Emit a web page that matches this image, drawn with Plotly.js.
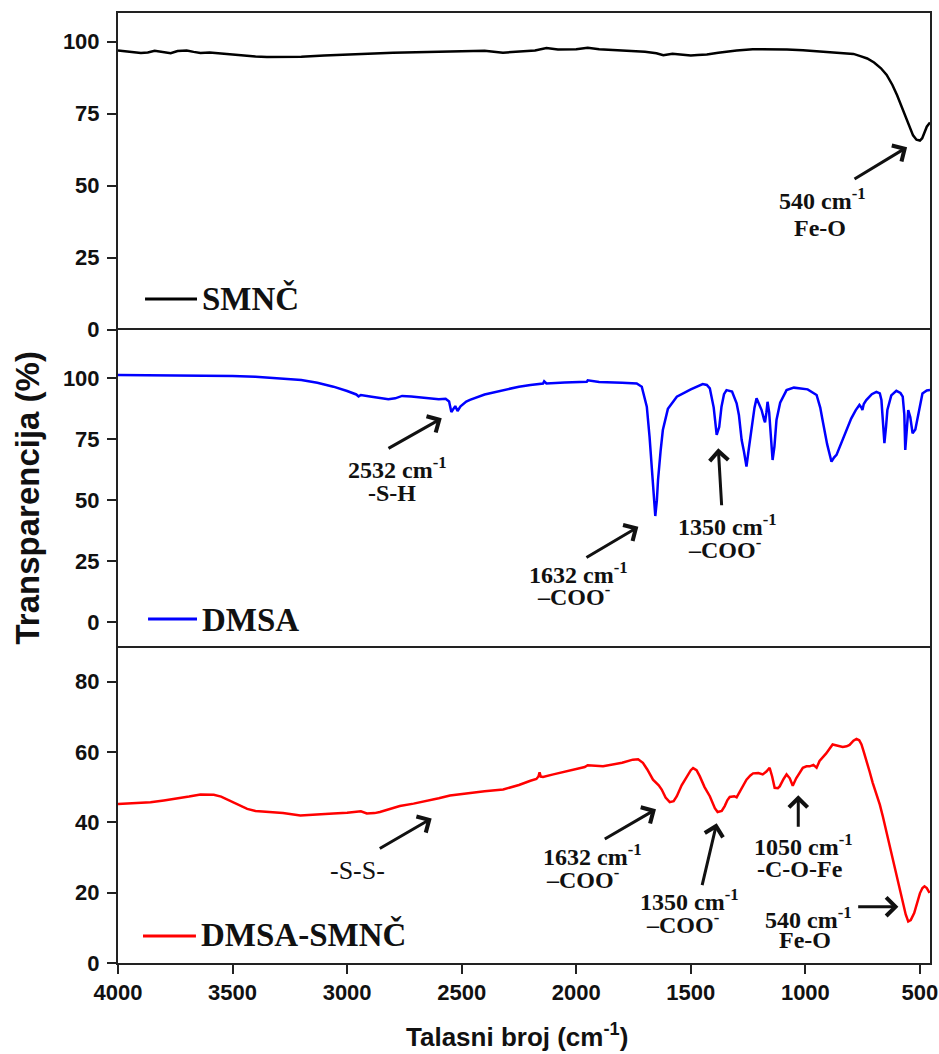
<!DOCTYPE html>
<html>
<head>
<meta charset="utf-8">
<script src="https://cdn.plot.ly/plotly-3.0.1.min.js"></script>
<style>html,body{margin:0;padding:0;background:#fff;}#chart{width:939px;height:1054px;}</style>
</head>
<body>
<div id="chart"></div>
<script>
// ---- Data (wavenumber cm^-1, transmittance %) ----
const seriesNames = ["SMNČ", "DMSA", "DMSA-SMNČ"];
const seriesColors = ["#000000", "#0000ff", "#ff0000"];

const wnSMNC = [4000,3960,3930,3900,3870,3840,3800,3770,3740,3700,3670,3640,3600,3560,3500,3450,3400,3350,3300,3200,3100,3000,2900,2800,2700,2600,2500,2400,2320,2250,2180,2130,2080,2000,1950,1900,1850,1800,1750,1700,1650,1620,1580,1540,1500,1470,1430,1380,1300,1230,1150,1080,1010,950,880,820,790,760,730,700,670,645,620,600,580,560,545,530,515,500,490,480,470,456];
const tSMNC = [97.0,96.8,96.4,96.1,96.3,96.9,96.4,96.0,96.8,97.0,96.5,96.1,96.3,96.0,95.6,95.1,94.9,94.7,94.7,94.8,95.2,95.6,95.9,96.2,96.4,96.5,96.8,96.9,96.2,96.6,97.0,97.8,97.3,97.4,97.9,97.4,97.2,97.0,96.8,96.5,96.0,95.3,95.8,95.6,95.2,95.4,95.6,96.2,97.0,97.4,97.4,97.3,97.1,96.8,96.4,96.1,95.8,95.0,94.2,92.8,90.8,88.5,85.0,81.5,77.5,73.0,70.0,67.5,66.0,65.7,66.5,68.5,70.5,72.0];

const wnDMSA = [4000,3800,3600,3500,3400,3300,3200,3130,3060,3000,2960,2950,2940,2900,2850,2820,2790,2760,2720,2680,2640,2600,2570,2555,2545,2535,2528,2518,2505,2480,2464,2400,2319,2250,2200,2145,2140,2130,2050,1954,1950,1900,1800,1736,1714,1700,1692,1680,1670,1660,1655,1648,1643,1632,1622,1600,1561,1500,1448,1430,1417,1400,1387,1376,1366,1355,1344,1320,1310,1300,1290,1278,1268,1257,1247,1235,1222,1213,1200,1191,1180,1176,1170,1165,1158,1150,1143,1135,1126,1110,1082,1050,1025,990,951,935,925,905,886,875,864,850,821,800,780,764,755,751,745,734,710,690,675,668,662,655,648,642,625,603,585,575,568,564,558,551,542,532,520,510,500,489,470,456];
const tDMSA = [101.4,101.3,101.2,101.0,100.7,100.0,99.3,98.2,96.6,94.8,93.4,92.6,93.2,92.6,91.8,91.4,91.8,92.8,92.6,92.1,91.6,91.4,91.6,90.5,86.2,87.6,88.6,86.6,88.5,90.5,91.2,93.4,95.2,96.6,97.3,97.9,98.8,97.9,98.3,98.6,99.2,98.5,98.2,97.9,96.6,92.0,88.4,76.0,62.4,48.0,43.5,50.0,58.3,70.0,78.8,87.5,92.5,95.5,97.7,97.3,95.9,88.0,76.8,80.0,88.4,93.5,95.2,94.6,92.5,89.8,85.0,74.7,70.0,63.8,71.0,80.2,88.0,91.8,89.0,87.0,83.0,82.0,86.0,90.4,86.0,75.0,66.5,72.0,82.9,90.0,95.2,96.2,95.9,95.5,93.2,88.0,82.9,73.0,65.8,67.5,68.6,72.0,78.8,83.5,87.0,89.1,88.0,87.0,89.5,91.1,93.5,94.5,93.8,91.1,83.0,73.4,80.0,87.0,93.0,94.9,94.0,92.5,85.0,70.6,78.0,87.0,84.0,77.5,79.0,84.3,89.5,93.8,95.0,95.2];

const wnMix = [4000,3930,3858,3800,3741,3690,3640,3582,3550,3523,3480,3436,3400,3348,3280,3204,3130,3060,3000,2972,2940,2914,2880,2857,2820,2770,2710,2653,2600,2551,2500,2464,2400,2319,2250,2200,2174,2165,2160,2155,2145,2100,2028,1990,1963,1950,1883,1800,1753,1730,1709,1690,1665,1640,1627,1610,1592,1575,1561,1540,1518,1500,1490,1475,1461,1440,1417,1395,1383,1365,1352,1340,1330,1310,1300,1280,1257,1240,1228,1205,1186,1170,1156,1145,1134,1120,1112,1095,1082,1068,1055,1040,1011,995,981,965,951,938,910,881,860,837,820,807,790,777,765,755,745,734,720,706,690,675,662,640,619,597,575,562,551,540,525,510,500,489,480,470,458];
const tMix = [45.2,45.5,45.7,46.2,46.7,47.3,47.9,47.8,47.3,46.5,45.2,43.8,43.2,42.9,42.6,41.9,42.1,42.5,42.7,42.9,43.1,42.5,42.6,42.9,43.7,44.6,45.3,46.0,46.8,47.6,48.0,48.4,48.8,49.3,50.6,51.8,52.3,53.0,54.2,53.0,52.9,53.6,54.8,55.3,55.7,56.2,55.9,56.9,57.8,57.9,56.9,55.0,52.1,50.5,49.3,47.0,45.7,46.0,47.4,50.5,53.1,54.8,55.4,54.8,53.1,50.0,47.4,44.0,42.9,43.2,44.6,46.3,47.2,47.4,47.1,49.5,52.1,53.3,53.9,54.0,53.6,54.4,55.5,53.0,49.8,49.7,50.2,52.3,53.6,52.5,50.4,52.5,55.5,55.9,55.9,56.3,55.5,57.4,59.5,62.1,61.8,61.4,61.6,62.0,63.2,63.7,63.3,62.1,60.0,57.8,54.5,51.2,48.0,45.0,41.7,35.5,29.4,23.2,17.1,13.8,11.8,12.2,14.2,17.5,19.8,21.3,21.8,21.3,19.9];

const xTickVals = [4000,3500,3000,2500,2000,1500,1000,500];
const yTicksTop = [0,25,50,75,100];
const yTicksMid = [0,25,50,75,100];
const yTicksBot = [0,20,40,60,80];

const xTitle = "Talasni broj (cm<sup>-1</sup>)";
const yTitle = "Transparencija (%)";

// ---- Peak labels: [xref, yref, x, y, text, bold] ----
const labelLines = [
  ["x3","y3", 927, 45.4, "540 cm<sup>-1</sup>", true],
  ["x3","y3", 936, 35.3, "Fe-O", true],
  ["x2","y2", 2778, 63.2, "2532 cm<sup>-1</sup>", true],
  ["x2","y2", 2804, 52.9, "-S-H", true],
  ["x2","y2", 1988, 20.1, "1632 cm<sup>-1</sup>", true],
  ["x2","y2", 2014, 11.1, "–COO<sup>-</sup>", true],
  ["x2","y2", 1338, 39.8, "1350 cm<sup>-1</sup>", true],
  ["x2","y2", 1351, 30.4, "–COO<sup>-</sup>", true],
  ["x","y", 2953, 26.4, "-S-S-", false],
  ["x","y", 1931, 30.7, "1632 cm<sup>-1</sup>", true],
  ["x","y", 1971, 24.3, "–COO<sup>-</sup>", true],
  ["x","y", 1504, 17.9, "1350 cm<sup>-1</sup>", true],
  ["x","y", 1538, 11.4, "–COO<sup>-</sup>", true],
  ["x","y", 1010, 33.5, "1050 cm<sup>-1</sup>", true],
  ["x","y", 1023, 26.7, "-C-O-Fe", true],
  ["x","y", 988, 12.8, "540 cm<sup>-1</sup>", true],
  ["x","y", 1002, 6.5, "Fe-O", true]
];
// arrows: [xref, yref, headX, headY, tailX, tailY]
const arrows = [
  ["x3","y3", 556, 63.4, 792, 52.0],
  ["x2","y2", 2587, 83.6, 2826, 70.9],
  ["x2","y2", 1729, 39.1, 1962, 26.1],
  ["x2","y2", 1380, 71.3, 1365, 47.3],
  ["x","y", 2631, 41.1, 2864, 32.3],
  ["x","y", 1652, 43.7, 1882, 35.0],
  ["x","y", 1387, 39.7, 1452, 21.7],
  ["x","y", 1031, 47.7, 1031, 38.3],
  ["x","y", 594, 16.0, 776, 16.0]
];

const SANS = "'Liberation Sans', Arial, sans-serif";
const SERIF = "'Liberation Serif', 'Times New Roman', serif";

const traces = [
  {x: wnSMNC, y: tSMNC, xaxis: "x3", yaxis: "y3", name: seriesNames[0], type: "scatter", mode: "lines", line: {color: seriesColors[0], width: 2.5}},
  {x: wnDMSA, y: tDMSA, xaxis: "x2", yaxis: "y2", name: seriesNames[1], type: "scatter", mode: "lines", line: {color: seriesColors[1], width: 2.5}},
  {x: wnMix, y: tMix, xaxis: "x", yaxis: "y", name: seriesNames[2], type: "scatter", mode: "lines", line: {color: seriesColors[2], width: 2.5}}
];

const frameColor = "#222";
const tickFont = {family: SANS, size: 22, color: "#111", weight: "bold"};
function xAx(anchor, showTicks, mirror, side) {
  return {
    anchor: anchor, range: [4000, 456], side: side, showline: true, mirror: mirror, linecolor: frameColor, linewidth: 2,
    showgrid: false, zeroline: false,
    ticks: showTicks ? "outside" : "", ticklen: 9, tickwidth: 2, tickcolor: frameColor,
    tickvals: xTickVals, showticklabels: showTicks, tickfont: tickFont
  };
}
function yAx(domain, range, tv, anchor) {
  return {
    anchor: anchor, domain: domain, range: range, showline: true, mirror: true, linecolor: frameColor, linewidth: 2,
    showgrid: false, zeroline: false, ticks: "outside", ticklen: 9, tickwidth: 2, tickcolor: frameColor,
    tickvals: tv, tickfont: tickFont, ticklabelstandoff: 3
  };
}

const annotations = [];
labelLines.forEach(l => {
  annotations.push({xref: l[0], yref: l[1], x: l[2], y: l[3], text: l[4], showarrow: false,
    xanchor: "center", yanchor: "middle",
    font: {family: SERIF, size: l[5] ? 24 : 26, color: "#111", weight: l[5] ? "bold" : "normal"}});
});
arrows.forEach(a => {
  annotations.push({xref: a[0], yref: a[1], x: a[2], y: a[3], axref: a[0], ayref: a[1], ax: a[4], ay: a[5],
    text: "", showarrow: true, arrowhead: 4, arrowsize: 1.2, arrowwidth: 3, arrowcolor: "#111", standoff: 0});
});
// legend labels
const legendPos = [[0.101, 0.700], [0.101, 0.361], [0.100, 0.0295]];
const legendLine = [[0.0333, 0.0973, 0.699], [0.037, 0.0973, 0.362], [0.0308, 0.096, 0.0284]];
seriesNames.forEach((n, i) => {
  annotations.push({xref: "paper", yref: "paper", x: legendPos[i][0], y: legendPos[i][1], text: n, showarrow: false,
    xanchor: "left", yanchor: "middle", font: {family: SERIF, size: 33, color: "#111", weight: "bold"}});
});
// axis titles
annotations.push({xref: "paper", yref: "paper", x: 0.4914, y: -0.0765, text: xTitle, showarrow: false,
  xanchor: "center", yanchor: "middle", font: {family: SANS, size: 26, color: "#111", weight: "bold"}});
annotations.push({xref: "paper", yref: "paper", x: -0.112, y: 0.489, text: yTitle, showarrow: false, textangle: -90,
  xanchor: "center", yanchor: "middle", font: {family: SANS, size: 33, color: "#111", weight: "bold"}});

const shapes = legendLine.map((s, i) => ({type: "line", xref: "paper", yref: "paper", x0: s[0], x1: s[1], y0: s[2], y1: s[2],
  line: {color: seriesColors[i], width: 3}}));

const layout = {
  width: 939, height: 1054,
  margin: {l: 118, r: 9, t: 13, b: 91},
  paper_bgcolor: "#fff", plot_bgcolor: "#fff",
  showlegend: false,
  xaxis: xAx("y", true, false, "bottom"),
  xaxis2: Object.assign(xAx("y2", false, true, "bottom"), {matches: "x"}),
  xaxis3: Object.assign(xAx("y3", false, false, "top"), {matches: "x"}),
  yaxis: yAx([0, 1/3], [0, 90], yTicksBot, "x"),
  yaxis2: yAx([1/3, 2/3], [-10, 120], yTicksMid, "x2"),
  yaxis3: yAx([2/3, 1], [0, 110], yTicksTop, "x3"),
  annotations: annotations,
  shapes: shapes
};

Plotly.newPlot("chart", traces, layout, {displayModeBar: false, staticPlot: true});
</script>
</body>
</html>
